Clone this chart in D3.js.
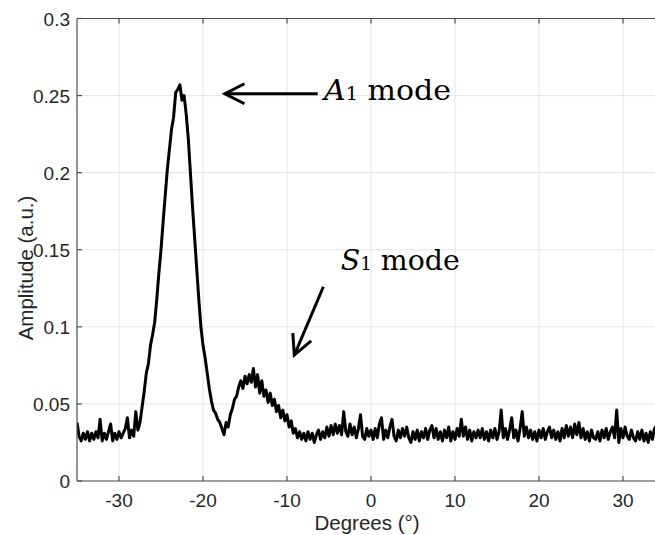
<!DOCTYPE html>
<html>
<head>
<meta charset="utf-8">
<script src="https://cdn.jsdelivr.net/npm/d3@7"></script>
<style>
  body { margin: 0; background: #fff; }
  svg { display: block; }
  .tick-label { font-family: "Liberation Sans", Arial, sans-serif; font-size: 19px; fill: #262626; }
  .axis-title { font-family: "Liberation Sans", Arial, sans-serif; font-size: 20.5px; fill: #262626; }
  .note { font-family: "DejaVu Serif", "Liberation Serif", serif; font-size: 28px; fill: #000; }
</style>
</head>
<body>
<div id="chart"></div>
<script>
// amplitude, 0.25 degree spacing, split in three runs
var leftStart = -35;
var baselineLeft = [
  0.038, 0.029, 0.026, 0.031, 0.027, 0.032, 0.026, 0.031, 0.027, 0.032,
  0.028, 0.040, 0.026, 0.031, 0.027, 0.032, 0.037, 0.026, 0.031, 0.027,
  0.032, 0.028, 0.031, 0.034, 0.041, 0.028, 0.033, 0.029, 0.045, 0.033
];

var modesStart = -27.5;
var modePeaks = [
  0.038, 0.048, 0.058, 0.070, 0.076, 0.088, 0.095, 0.103, 0.118, 0.135,
  0.150, 0.168, 0.185, 0.202, 0.215, 0.228, 0.236, 0.252, 0.254, 0.257,
  0.247, 0.250, 0.238, 0.222, 0.200, 0.178, 0.158, 0.138, 0.118, 0.100,
  0.088, 0.080, 0.070, 0.060, 0.052, 0.046, 0.044, 0.040, 0.038, 0.034,
  0.030, 0.038, 0.035, 0.043, 0.047, 0.053, 0.055, 0.061, 0.065, 0.060,
  0.068, 0.063, 0.069, 0.064, 0.073, 0.061, 0.069, 0.057, 0.065, 0.055,
  0.059, 0.051, 0.057, 0.049, 0.053, 0.045, 0.049, 0.041, 0.046, 0.039,
  0.043, 0.035, 0.039, 0.031, 0.034, 0.028, 0.032, 0.027, 0.031
];

var rightStart = -7.75;
var baselineRight = [
  0.026, 0.032, 0.027, 0.031, 0.025, 0.030, 0.033, 0.027, 0.032, 0.028,
  0.035, 0.029, 0.036, 0.030, 0.037, 0.031, 0.036, 0.030, 0.045, 0.032,
  0.029, 0.037, 0.030, 0.035, 0.028, 0.034, 0.043, 0.029, 0.027, 0.034,
  0.029,
  0.033, 0.027, 0.034, 0.028, 0.037, 0.041, 0.027, 0.033, 0.028, 0.035,
  0.040, 0.029, 0.026, 0.033, 0.028, 0.034, 0.029, 0.035, 0.028, 0.025,
  0.032, 0.027, 0.033, 0.026, 0.032, 0.028, 0.034, 0.027, 0.033, 0.036,
  0.028, 0.034, 0.027, 0.032, 0.026, 0.033, 0.028, 0.035, 0.026, 0.032,
  0.027, 0.034, 0.029, 0.040, 0.029, 0.035, 0.027, 0.033, 0.026, 0.032,
  0.028, 0.033, 0.028, 0.034, 0.027, 0.032, 0.026, 0.033, 0.028, 0.034,
  0.027, 0.032, 0.046, 0.028, 0.034, 0.027, 0.033, 0.041, 0.028, 0.033,
  0.026, 0.034, 0.045, 0.029, 0.035, 0.028, 0.033, 0.027, 0.032, 0.026,
  0.033, 0.028, 0.034, 0.027, 0.032, 0.035, 0.028, 0.033, 0.027, 0.032,
  0.026, 0.034, 0.028, 0.036, 0.029, 0.035, 0.028, 0.037, 0.030, 0.038,
  0.028, 0.034, 0.027, 0.032, 0.026, 0.033, 0.028, 0.027, 0.032, 0.026,
  0.033, 0.028, 0.034, 0.027, 0.032, 0.035, 0.028, 0.046, 0.025, 0.034,
  0.028, 0.035, 0.029, 0.027, 0.033, 0.028, 0.026, 0.032, 0.027, 0.033,
  0.026, 0.031, 0.025, 0.032, 0.027, 0.034, 0.036, 0.028, 0.033, 0.027,
  0.032
];
var stepDeg = 0.25;

var xTicks = [-30, -20, -10, 0, 10, 20, 30];
var yTicks = [0, 0.05, 0.1, 0.15, 0.2, 0.25, 0.3];

// annotations: label position, arrow tail, arrow tip (data units)
var notes = [
  {main: "A", sub: "1", rest: " mode", at: [-5.6, 0.2470], len: 127,
   from: [-6.35, 0.2512], to: [-17.4, 0.2512]},
  {main: "S", sub: "1", rest: " mode", at: [-3.6, 0.1370], len: 119,
   from: [-5.67, 0.126], to: [-9.13, 0.0817]}
];

var W = 655, H = 535;
var margin = {top: 18.5, left: 77, bottom: 54};
var x = d3.scaleLinear().domain([-35, 35]).range([margin.left, margin.left + 588]);
var y = d3.scaleLinear().domain([0, 0.3]).range([H - margin.bottom, margin.top]);

function toPoints(arr, start) {
  return arr.map(function(v, i) { return [start + i * stepDeg, v]; });
}
var points = toPoints(baselineLeft, leftStart)
  .concat(toPoints(modePeaks, modesStart))
  .concat(toPoints(baselineRight, rightStart));

var svg = d3.select("#chart").append("svg").attr("width", W).attr("height", H);

var x0 = x.range()[0], x1 = x.range()[1], yb = y.range()[0], yt = y.range()[1];

// grid
svg.append("g").selectAll("line").data(xTicks).enter().append("line")
  .attr("x1", function(d) { return x(d); }).attr("x2", function(d) { return x(d); })
  .attr("y1", yt).attr("y2", yb)
  .attr("stroke", "#e3e3e3").attr("stroke-width", 1);
svg.append("g").selectAll("line").data(yTicks).enter().append("line")
  .attr("x1", x0).attr("x2", x1)
  .attr("y1", function(d) { return y(d); }).attr("y2", function(d) { return y(d); })
  .attr("stroke", "#e3e3e3").attr("stroke-width", 1);

// data line
svg.append("clipPath").attr("id", "plotclip").append("rect")
  .attr("x", x0).attr("y", yt).attr("width", x1 - x0).attr("height", yb - yt);

svg.append("path")
  .datum(points)
  .attr("clip-path", "url(#plotclip)")
  .attr("fill", "none")
  .attr("stroke", "#000")
  .attr("stroke-width", 3)
  .attr("stroke-linejoin", "round")
  .attr("d", d3.line().x(function(d) { return x(d[0]); }).y(function(d) { return y(d[1]); }));

// box lines
var axisColor = "#4d4d4d";
svg.append("line").attr("x1", x0).attr("x2", x1).attr("y1", yb).attr("y2", yb)
  .attr("stroke", axisColor).attr("stroke-width", 1.2);
svg.append("line").attr("x1", x0).attr("x2", x1).attr("y1", yt).attr("y2", yt)
  .attr("stroke", axisColor).attr("stroke-width", 1.2);
svg.append("line").attr("x1", x0).attr("x2", x0).attr("y1", yt).attr("y2", yb)
  .attr("stroke", axisColor).attr("stroke-width", 1.2);

// ticks (inside)
var tl = 5;
xTicks.forEach(function(t) {
  svg.append("line").attr("x1", x(t)).attr("x2", x(t)).attr("y1", yb).attr("y2", yb - tl)
    .attr("stroke", axisColor).attr("stroke-width", 1.2);
  svg.append("line").attr("x1", x(t)).attr("x2", x(t)).attr("y1", yt).attr("y2", yt + tl)
    .attr("stroke", axisColor).attr("stroke-width", 1.2);
  svg.append("text").attr("class", "tick-label")
    .attr("x", x(t)).attr("y", yb + 26)
    .attr("text-anchor", "middle")
    .text(String(t));
});
yTicks.forEach(function(t) {
  svg.append("line").attr("x1", x0).attr("x2", x0 + tl).attr("y1", y(t)).attr("y2", y(t))
    .attr("stroke", axisColor).attr("stroke-width", 1.2);
  svg.append("text").attr("class", "tick-label")
    .attr("x", x0 - 7).attr("y", y(t) + 7)
    .attr("text-anchor", "end")
    .text(d3.format("~g")(t));
});

// axis titles
svg.append("text").attr("class", "axis-title")
  .attr("x", (x0 + 588 / 2) - 4).attr("y", 530)
  .attr("text-anchor", "middle")
  .text("Degrees (°)");
svg.append("text").attr("class", "axis-title")
  .attr("transform", "translate(33,268) rotate(-90)")
  .attr("text-anchor", "middle")
  .text("Amplitude (a.u.)");

// annotations
notes.forEach(function(n) {
  var t = svg.append("text").attr("class", "note")
    .attr("x", x(n.at[0])).attr("y", y(n.at[1]))
    .attr("textLength", n.len).attr("lengthAdjust", "spacingAndGlyphs");
  t.append("tspan").attr("font-style", "italic").text(n.main);
  t.append("tspan").attr("font-size", "18px").text(n.sub);
  t.append("tspan").text(n.rest);

  var fx = x(n.from[0]), fy = y(n.from[1]), tx = x(n.to[0]), ty = y(n.to[1]);
  var ang = Math.atan2(fy - ty, fx - tx);
  var arm = 22, spread = 27 * Math.PI / 180;
  svg.append("line").attr("x1", fx).attr("y1", fy).attr("x2", tx).attr("y2", ty)
    .attr("stroke", "#000").attr("stroke-width", 3);
  svg.append("path")
    .attr("d", "M" + (tx + arm * Math.cos(ang + spread)) + "," + (ty + arm * Math.sin(ang + spread)) +
      "L" + tx + "," + ty +
      "L" + (tx + arm * Math.cos(ang - spread)) + "," + (ty + arm * Math.sin(ang - spread)))
    .attr("fill", "none").attr("stroke", "#000").attr("stroke-width", 3)
    .attr("stroke-linejoin", "miter");
});
</script>
</body>
</html>
